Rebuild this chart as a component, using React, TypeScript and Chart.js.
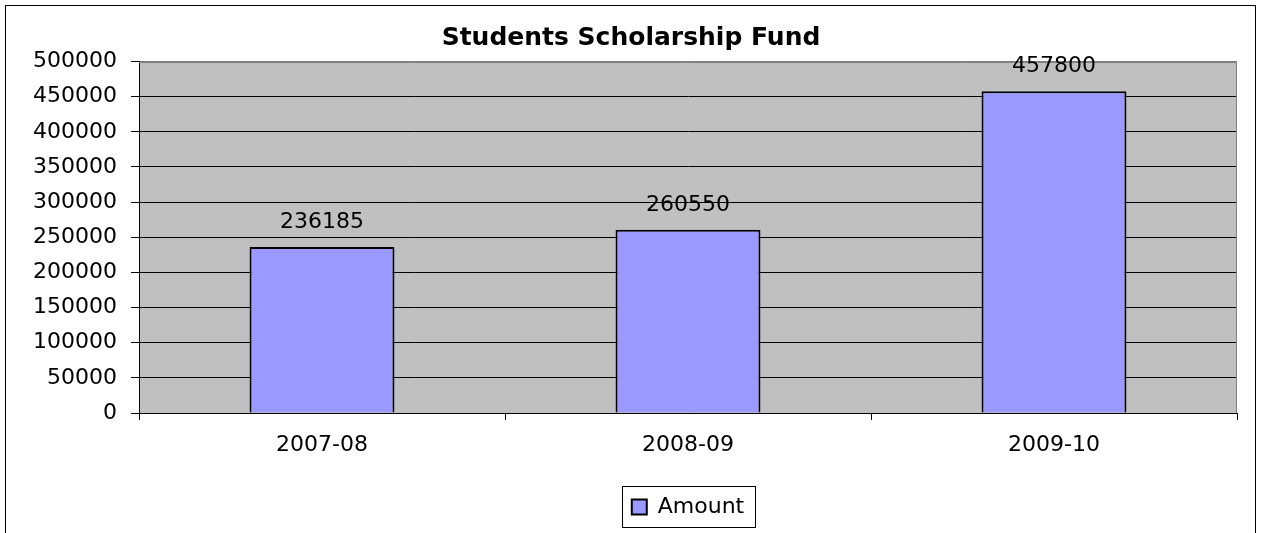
import React, { useEffect, useRef } from "react";
import { Chart, registerables } from "chart.js";

Chart.register(...registerables);

const title = "Students Scholarship Fund";
const categories = ["2007-08", "2008-09", "2009-10"];
const seriesName = "Amount";
const amounts = [236185, 260550, 457800];
const yMin = 0;
const yMax = 500000;
const yStep = 50000;

const FONT = "'DejaVu Sans', 'Liberation Sans', Arial, sans-serif";

const plotBackground = {
  id: "plotBackground",
  beforeDraw(chart: any) {
    const { ctx, chartArea } = chart;
    ctx.save();
    ctx.fillStyle = "#C0C0C0";
    ctx.fillRect(chartArea.left, chartArea.top, chartArea.right - chartArea.left, chartArea.bottom - chartArea.top);
    ctx.restore();
  },
  afterDatasetsDraw(chart: any) {
    const { ctx, chartArea } = chart;
    ctx.save();
    ctx.strokeStyle = "#808080";
    ctx.lineWidth = 1;
    ctx.beginPath();
    const t = Math.round(chartArea.top) + 0.5;
    const r = Math.round(chartArea.right) - 0.5;
    ctx.moveTo(chartArea.left, t);
    ctx.lineTo(r, t);
    ctx.lineTo(r, chartArea.bottom);
    ctx.stroke();
    ctx.restore();
  },
};

const dataLabels = {
  id: "dataLabels",
  afterDatasetsDraw(chart: any) {
    const { ctx } = chart;
    ctx.save();
    ctx.font = `22px ${FONT}`;
    ctx.fillStyle = "#000";
    ctx.textAlign = "center";
    ctx.textBaseline = "alphabetic";
    chart.data.datasets.forEach((ds: any, di: number) => {
      const meta = chart.getDatasetMeta(di);
      meta.data.forEach((el: any, i: number) => {
        ctx.fillText(String(ds.data[i]), el.x, el.y - 19);
      });
    });
    ctx.restore();
  },
};

const frames = {
  id: "frames",
  afterDraw(chart: any) {
    const { ctx } = chart;
    ctx.save();
    ctx.strokeStyle = "#000";
    ctx.lineWidth = 1;
    ctx.strokeRect(5.5, 5.5, 1250, 700);
    const legend = chart.legend;
    if (legend && legend.legendHitBoxes && legend.legendHitBoxes.length) {
      const hb = legend.legendHitBoxes[0];
      const l = Math.round(hb.left - 10) + 0.5;
      const r = Math.round(hb.left + hb.width + 11) + 0.5;
      const t = Math.round(hb.top - 10) + 0.5;
      const b = Math.round(hb.top + hb.height + 9) + 0.5;
      ctx.strokeRect(l, t, r - l, b - t);
    }
    ctx.restore();
  },
};

export default function App() {
  const canvasRef = useRef<HTMLCanvasElement | null>(null);

  useEffect(() => {
    if (!canvasRef.current) return;
    Chart.defaults.color = "#000";
    Chart.defaults.font.family = FONT;
    const chart = new Chart(canvasRef.current, {
      type: "bar",
      data: {
        labels: categories,
        datasets: [
          {
            label: seriesName,
            data: amounts,
            backgroundColor: "#9999FF",
            borderColor: "#000",
            borderWidth: 2,
            categoryPercentage: 1,
            barPercentage: 0.396,
          },
        ],
      },
      options: {
        responsive: false,
        animation: false,
        layout: { padding: { left: 25, right: 24, top: 0, bottom: 5 } },
        plugins: {
          title: {
            display: true,
            text: title,
            font: { size: 25, weight: "bold", family: FONT },
            color: "#000",
            padding: { top: 23.5, bottom: 8 },
          },
          legend: {
            display: true,
            position: "bottom",
            fullSize: false,
            labels: {
              boxWidth: 15,
              boxHeight: 15,
              padding: 10,
              font: { size: 22, family: FONT },
              color: "#000",
            },
          },
          tooltip: { enabled: false },
        },
        scales: {
          x: {
            offset: true,
            grid: {
              display: true,
              drawOnChartArea: false,
              drawTicks: true,
              tickLength: 7,
              color: "#000",
              offset: true,
            },
            border: { display: true, color: "#000", width: 1 },
            ticks: { font: { size: 22, family: FONT }, color: "#000", padding: 12, maxRotation: 0 },
            afterFit: (s: any) => {
              s.height = 73;
            },
          },
          y: {
            min: yMin,
            max: yMax,
            grid: {
              color: (c: any) => (c.tick && c.tick.value === yMax ? "#808080" : "#000"),
              tickColor: "#000",
              tickLength: 8,
              lineWidth: 1,
            },
            border: { display: true, color: "#000", width: 1 },
            ticks: {
              stepSize: yStep,
              font: { size: 22, family: FONT },
              color: "#000",
              padding: 14,
              callback: (v: any) => String(v),
            },
            afterFit: (s: any) => {
              s.width = 114;
            },
          },
        },
      },
      plugins: [plotBackground, dataLabels, frames],
    });
    return () => chart.destroy();
  }, []);

  return (
    <div style={{ position: "absolute", left: 0, top: 0, width: 1261, height: 533, background: "#fff" }}>
      <canvas ref={canvasRef} width={1261} height={533} style={{ display: "block" }} />
    </div>
  );
}
